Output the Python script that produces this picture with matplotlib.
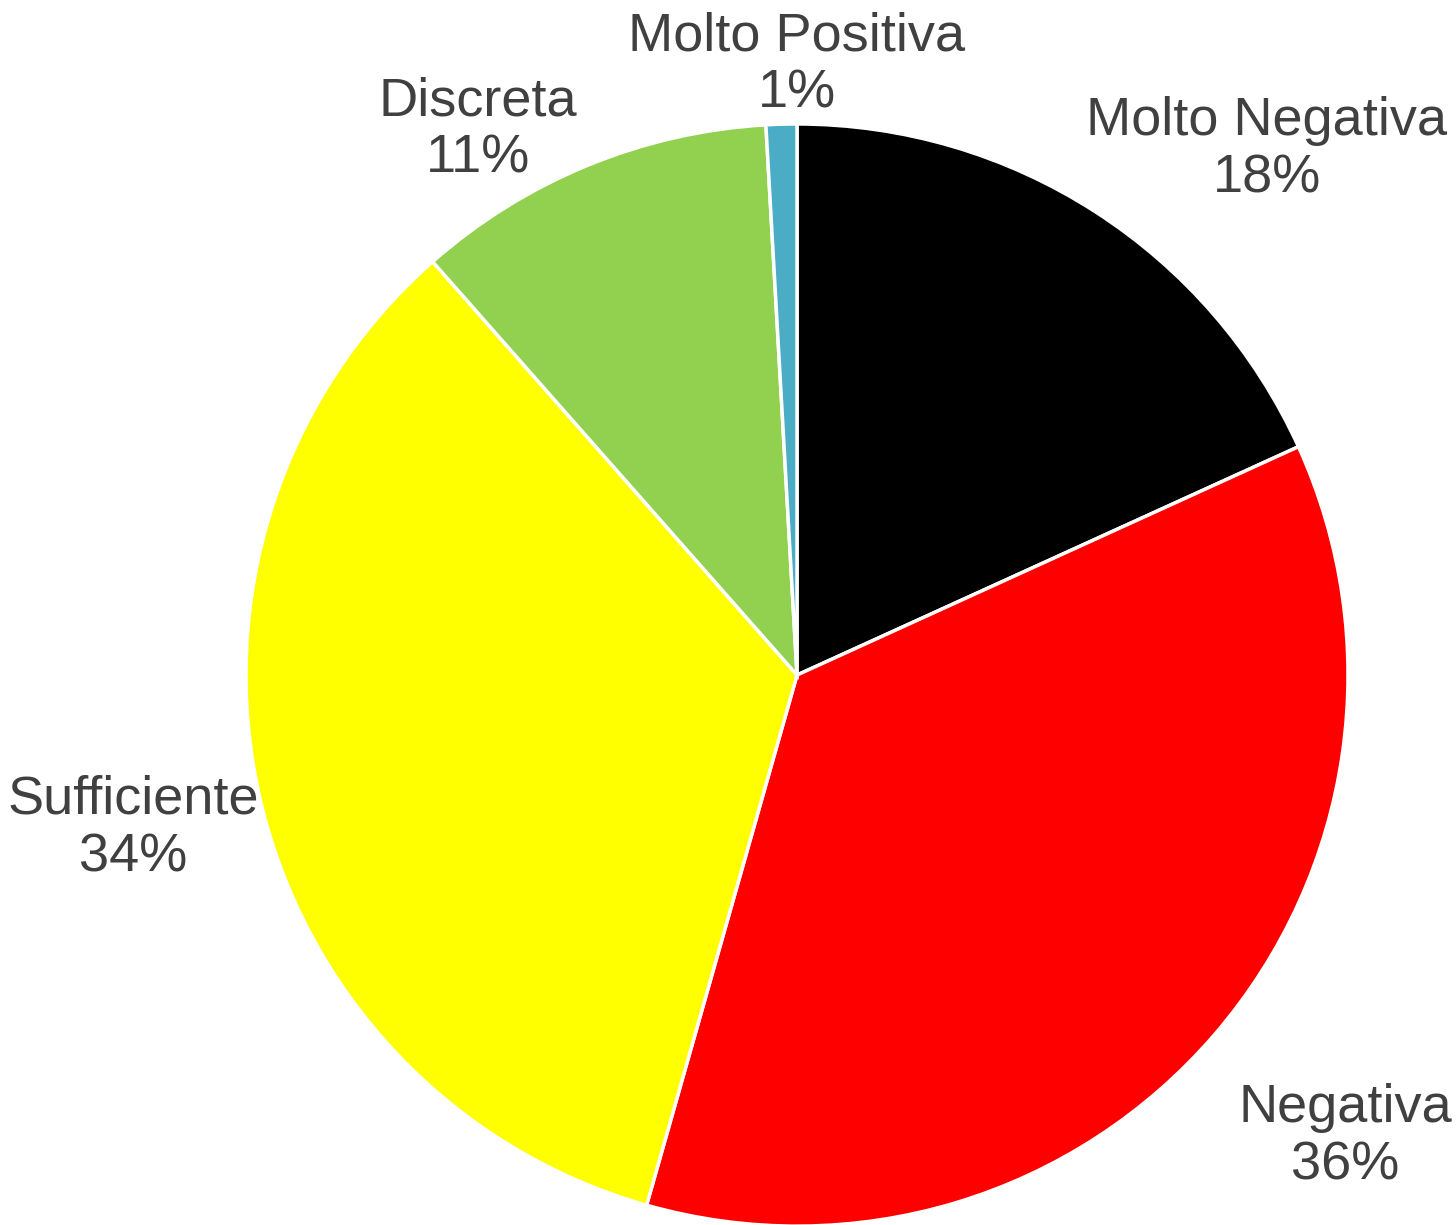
import matplotlib.pyplot as plt

labels = ['Molto Negativa', 'Negativa', 'Sufficiente', 'Discreta', 'Molto Positiva']
values = [18.2, 36.2, 34.1, 10.6, 0.9]
colors = ['#000000', '#FF0000', '#FFFF00', '#92D050', '#4BACC6']

# label centres in units of the pie radius (placed like the original)
label_pos = [(0.853, 0.953), (0.995, -0.838), (-1.205, -0.279),
             (-0.579, 0.989), (0.0, 1.107)]

plt.rcParams['font.family'] = ['Liberation Sans', 'DejaVu Sans']

fig = plt.figure(figsize=(14.56, 12.25), dpi=100)
ax = fig.add_axes([0, 0, 1, 1])

wedges, _ = ax.pie(values, colors=colors, startangle=90, counterclock=False,
                   radius=1.0, center=(0, 0),
                   wedgeprops=dict(edgecolor='white', linewidth=2.5))

total = sum(values)
for lab, v, (x, y) in zip(labels, values, label_pos):
    ax.text(x, y, f'{lab}\n{round(100 * v / total)}%', ha='center', va='center',
            fontsize=39, color='#404040', linespacing=1.2)

ax.set_xlim(-1.4465, 1.196)
ax.set_ylim(-0.998, 1.225)
ax.set_aspect('auto')
ax.axis('off')

fig.savefig('out.png', dpi=100)
